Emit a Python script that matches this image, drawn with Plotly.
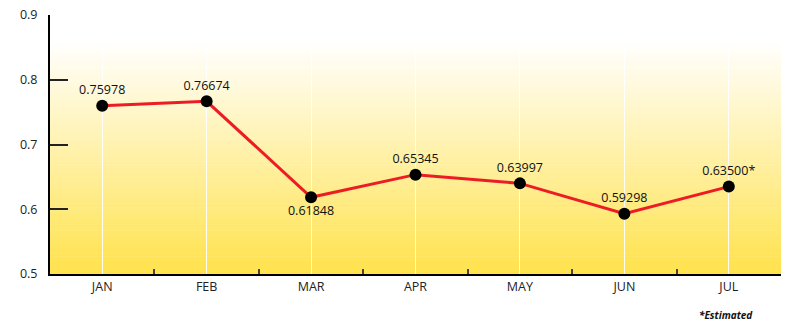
import plotly.graph_objects as go

months = ["JAN", "FEB", "MAR", "APR", "MAY", "JUN", "JUL"]
values = [0.75978, 0.76674, 0.61848, 0.65345, 0.63997, 0.59298, 0.635]
labels = ["0.75978", "0.76674", "0.61848", "0.65345", "0.63997", "0.59298", "0.63500*"]
label_pos = ["top center", "top center", "bottom center", "top center",
             "top center", "top center", "top center"]
y_ticks = [0.5, 0.6, 0.7, 0.8, 0.9]
y_range = [0.5, 0.9]
note = "*Estimated"

n = len(months)
xs = list(range(n))
boundaries = [i - 0.5 for i in range(n + 1)]
x_range = [boundaries[0], boundaries[-1]]

fig = go.Figure()

# gradient background as stripes (paper coords of the plot area)
stripes = 90
white_top = 0.9
top_c = (255, 255, 255)
bot_c = (255, 226, 76)
shapes = []
for i in range(stripes):
    f0 = i / stripes
    f1 = (i + 1) / stripes
    fm = (f0 + f1) / 2
    t = min(fm / white_top, 1.0)  # 0 bottom -> 1 top
    c = tuple(round(bot_c[k] + (top_c[k] - bot_c[k]) * t) for k in range(3))
    shapes.append(dict(type="rect", xref="paper", yref="paper", x0=0, x1=1,
                       y0=f0, y1=f1 + 0.002, line=dict(width=0),
                       fillcolor="rgb(%d,%d,%d)" % c, layer="below"))

fig.add_trace(go.Scatter(
    x=xs, y=values, mode="lines+markers+text",
    line=dict(color="#ED1C24", width=3),
    marker=dict(color="black", size=12),
    text=labels, textposition=label_pos,
    textfont=dict(family="Open Sans", size=12.5, color="#111"),
    cliponaxis=False, hoverinfo="skip", showlegend=False,
))

# invisible trace for boundary-tick axis
fig.add_trace(go.Scatter(x=x_range, y=y_range, xaxis="x2", mode="markers",
                         marker=dict(opacity=0), showlegend=False, hoverinfo="skip"))

fig.update_layout(
    width=803, height=332,
    margin=dict(l=50, r=22, t=15, b=58, autoexpand=False),
    paper_bgcolor="white", plot_bgcolor="rgba(0,0,0,0)",
    shapes=shapes,
    font=dict(family="Open Sans", size=12, color="#222"),
    xaxis=dict(range=x_range, tickvals=xs, ticktext=months, ticks="",
               showgrid=True, gridcolor="rgba(255,255,255,0.9)", gridwidth=1,
               showline=True, linecolor="black", linewidth=2, zeroline=False,
               tickfont=dict(size=12.5, color="#222")),
    xaxis2=dict(range=x_range, overlaying="x", anchor="y", side="bottom",
                tickvals=boundaries, ticks="inside", ticklen=5, tickwidth=1.5,
                tickcolor="#444", showticklabels=False, showgrid=False,
                showline=False, zeroline=False),
    yaxis=dict(range=y_range, tickvals=y_ticks, ticktext=["%.1f" % v for v in y_ticks],
               ticks="inside", ticklen=18, tickwidth=2, tickcolor="#222",
               showgrid=False, showline=True, linecolor="black", linewidth=2,
               zeroline=False, ticklabelstandoff=8, ticklabeloverflow="allow",
               tickfont=dict(size=12.5, color="#222")),
    annotations=[dict(text=note, xref="paper", yref="paper", x=0.965, y=-0.158,
                      xanchor="right", yanchor="middle", showarrow=False,
                      font=dict(family="Open Sans", size=10, color="#111",
                                style="italic", weight="bold"))],
)

fig.write_html("out.html", config={"displayModeBar": False},
               post_script="document.body.style.margin='0';")
